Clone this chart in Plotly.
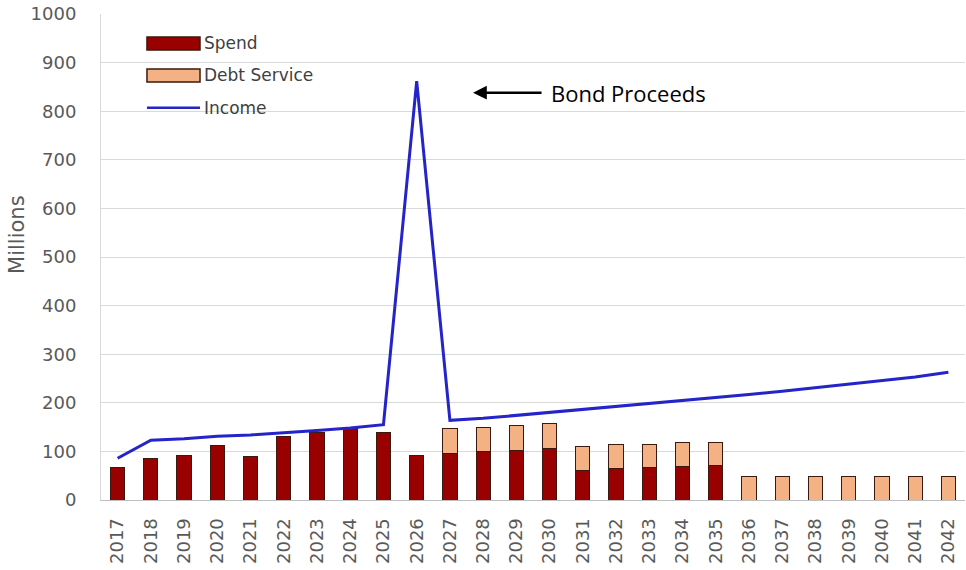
import plotly.graph_objects as go

years = [str(y) for y in range(2017, 2043)]

spend = [67, 86, 92, 112, 90, 131, 138, 149, 138, 92,
         96, 99, 102, 106, 61, 64, 67, 68, 71,
         0, 0, 0, 0, 0, 0, 0]

debt_service = [0, 0, 0, 0, 0, 0, 0, 0, 0, 0,
                51, 51, 51, 51, 50, 50, 48, 50, 47,
                48, 48, 48, 48, 48, 48, 48]

income = [86, 123, 126, 131, 134, 138, 143, 148, 155, 862,
          164, 168, 174, 180, 186, 192, 198, 204, 211,
          217, 224, 231, 238, 246, 253, 263]

y_ticks = list(range(0, 1001, 100))

GRID = "#D9D9D9"
TEXT = "#595959"
SPEND_C = "#990000"
DEBT_C = "#F4B183"
INCOME_C = "#2424C8"
EDGE = "#3a1a10"

fig = go.Figure()

fig.add_trace(go.Bar(
    x=years, y=spend, name="Spend",
    marker=dict(color=SPEND_C, line=dict(color=EDGE, width=1)),
    width=0.43,
))
fig.add_trace(go.Bar(
    x=years, y=debt_service, name="Debt Service",
    marker=dict(color=DEBT_C, line=dict(color=EDGE, width=1)),
    width=0.43,
))
fig.add_trace(go.Scatter(
    x=years, y=income, name="Income", mode="lines",
    line=dict(color=INCOME_C, width=3),
))

# Hand-drawn legend with wide swatches in the upper-left corner
sx0, sx1, tx = 0.0532, 0.1146, 0.1169
legend_rows = [
    ("Spend", "bar", SPEND_C, 0.9527, 0.926),
    ("Debt Service", "bar", DEBT_C, 0.887, 0.860),
    ("Income", "line", INCOME_C, 0.807, 0.807),
]
for label, kind, color, ytop, ybot in legend_rows:
    if kind == "bar":
        fig.add_shape(type="rect", xref="paper", yref="paper",
                      x0=sx0, x1=sx1, y0=ybot, y1=ytop,
                      fillcolor=color, line=dict(color=EDGE, width=1.5))
    else:
        fig.add_shape(type="line", xref="paper", yref="paper",
                      x0=sx0, x1=sx1, y0=ytop, y1=ytop,
                      line=dict(color=INCOME_C, width=2.5))
    fig.add_annotation(x=tx, y=(ytop + ybot) / 2, xref="paper", yref="paper",
                       text=label, showarrow=False, xanchor="left",
                       yanchor="middle",
                       font=dict(family="DejaVu Sans", size=17, color="#404040"))

# Callout pointing at the bond-proceeds spike
fig.add_annotation(
    x=0.4306, xref="paper", y=838, yref="y",
    ax=70, ay=0,
    text="", showarrow=True, arrowhead=2, arrowsize=1.1, arrowwidth=2.5,
    arrowcolor="black",
)
fig.add_annotation(
    x=0.5185, xref="paper", y=838, yref="y",
    text="Bond Proceeds", showarrow=False, xanchor="left", yanchor="middle",
    font=dict(family="Open Sans", size=22, color="black"),
)

# Y-axis title
fig.add_annotation(
    x=-0.098, y=0.546, xref="paper", yref="paper",
    text="Millions", textangle=-90, showarrow=False,
    xanchor="center", yanchor="middle",
    font=dict(family="DejaVu Sans", size=21, color=TEXT),
)

fig.update_layout(
    width=966, height=570,
    margin=dict(l=101, r=1, t=14, b=70),
    paper_bgcolor="white", plot_bgcolor="white",
    barmode="stack", bargap=0.57,
    font=dict(family="DejaVu Sans", size=18, color=TEXT),
    showlegend=False,
    xaxis=dict(
        tickangle=-90, tickfont=dict(family="DejaVu Sans", size=18, color=TEXT),
        showline=True, linecolor="#BFBFBF", linewidth=1,
        showgrid=False, ticks="", ticklabelstandoff=10,
    ),
    yaxis=dict(
        range=[0, 1000], tickvals=y_ticks,
        tickfont=dict(family="DejaVu Sans", size=18, color=TEXT),
        gridcolor=GRID, gridwidth=1,
        showline=True, linecolor="#D9D9D9", linewidth=1,
        zeroline=False, ticks="", ticklabelstandoff=20,
    ),
)

fig.write_html("out.html")
